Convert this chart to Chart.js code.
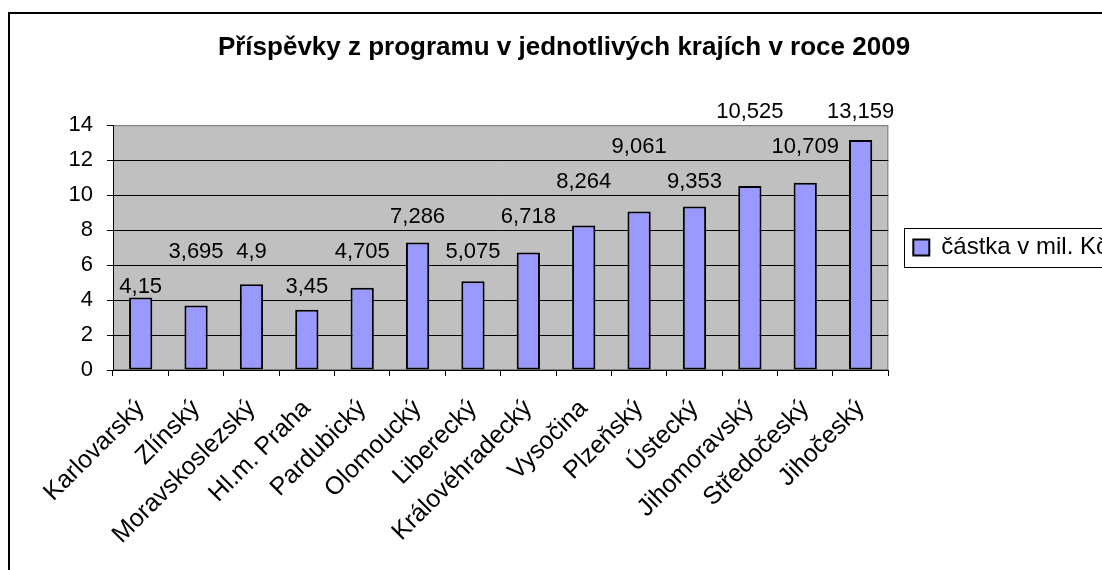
<!DOCTYPE html>
<html>
<head>
<meta charset="utf-8">
<script src="https://cdn.jsdelivr.net/npm/chart.js@4.4.1/dist/chart.umd.min.js"></script>
<style>
  body { margin: 0; overflow: hidden; background: #fff; }
  #frame { position: absolute; left: 8px; top: 12px; border: 2px solid #000; width: 1108px; height: 560px; }
  canvas { display: block; }
</style>
</head>
<body>
<div id="frame">
  <canvas id="chart" width="1108" height="560"></canvas>
</div>
<script>
// data (mil. Kč)
const regions = ["Karlovarský", "Zlínský", "Moravskoslezský", "Hl.m. Praha", "Pardubický", "Olomoucký",
  "Liberecký", "Královéhradecký", "Vysočina", "Plzeňský", "Ústecký", "Jihomoravský", "Středočeský", "Jihočeský"];
const amounts = [4.15, 3.695, 4.9, 3.45, 4.705, 7.286, 5.075, 6.718, 8.264, 9.061, 9.353, 10.525, 10.709, 13.159];
const yTicks = [0, 2, 4, 6, 8, 10, 12, 14];

const fontFamily = '"Liberation Sans", Arial, sans-serif';
Chart.defaults.font.family = fontFamily;
Chart.defaults.font.size = 22;
Chart.defaults.color = "#000";

// grey plot area like the old excel charts
const plotBackground = {
  id: "plotBackground",
  beforeDraw(chart) {
    const { ctx, chartArea: a } = chart;
    ctx.save();
    ctx.fillStyle = "#c0c0c0";
    ctx.fillRect(a.left, a.top, a.right - a.left, a.bottom - a.top);
    ctx.strokeStyle = "#808080";
    ctx.lineWidth = 1;
    ctx.strokeRect(a.left + 0.5, a.top + 0.5, a.right - a.left - 1, a.bottom - a.top - 1);
    ctx.restore();
  }
};

// value labels, tallest bars pick first, others go up a row when they'd touch a neighbour
const barLabels = {
  id: "barLabels",
  afterDatasetsDraw(chart) {
    const ctx = chart.ctx;
    const y = chart.scales.y;
    const bars = chart.getDatasetMeta(0).data;
    const vals = chart.data.datasets[0].data;
    ctx.save();
    ctx.font = "22px " + fontFamily;
    ctx.fillStyle = "#000";
    ctx.textAlign = "center";
    ctx.textBaseline = "alphabetic";
    const order = vals.map((v, i) => i).sort((a, b) => vals[b] - vals[a]);
    const placed = [];
    order.forEach(i => {
      const text = String(vals[i]).replace(".", ",");
      const w = ctx.measureText(text).width;
      const x0 = bars[i].x - w / 2, x1 = bars[i].x + w / 2;
      let row = Math.ceil((vals[i] + 0.2 - 0.4) / 2);
      while (placed.some(p => p.row === row && x0 < p.x1 + 7 && x1 > p.x0 - 7)) row++;
      placed.push({ row, x0, x1 });
      ctx.fillText(text, bars[i].x, y.getPixelForValue(row * 2 + 0.4));
    });
    ctx.restore();
  }
};

// box round the legend
const legendFrame = {
  id: "legendFrame",
  afterDraw(chart) {
    const hb = chart.legend.legendHitBoxes[0];
    if (!hb) return;
    const ctx = chart.ctx;
    ctx.save();
    ctx.strokeStyle = "#000";
    ctx.lineWidth = 1;
    ctx.strokeRect(Math.round(hb.left) - 8.5, Math.round(hb.top + hb.height / 2) - 19.5, 400, 39);
    ctx.restore();
  }
};

new Chart(document.getElementById("chart"), {
  type: "bar",
  data: {
    labels: regions,
    datasets: [{
      label: "částka v mil. Kč",
      data: amounts,
      backgroundColor: "#9999ff",
      borderColor: "#000",
      borderWidth: 2,
      borderSkipped: false,
      barPercentage: 0.42,
      categoryPercentage: 1
    }]
  },
  options: {
    responsive: false,
    animation: false,
    devicePixelRatio: 1,
    layout: { padding: 0 },
    plugins: {
      title: {
        display: true,
        text: "Příspěvky z programu v jednotlivých krajích v roce 2009",
        font: { size: 26, weight: "bold" },
        color: "#000",
        padding: { top: 18, bottom: 62 }
      },
      legend: {
        position: "right",
        fullSize: false,
        labels: {
          boxWidth: 16,
          boxHeight: 16,
          padding: 25,
          color: "#000",
          font: { size: 24 }
        }
      },
      tooltip: { enabled: false }
    },
    scales: {
      x: {
        grid: { drawOnChartArea: false, tickLength: 6, color: "#000" },
        border: { color: "#000", width: 1 },
        ticks: { minRotation: 45, maxRotation: 45, autoSkip: false, padding: 18, color: "#000", font: { size: 25 } },
        afterFit: s => { s.height = 204; }
      },
      y: {
        min: 0,
        max: 14,
        afterBuildTicks: s => { s.ticks = yTicks.map(v => ({ value: v })); },
        grid: {
          tickLength: 6,
          color: c => (c.tick && c.tick.value === 14 ? "#808080" : "#000"),
          tickColor: "#000"
        },
        border: { color: "#000", width: 1 },
        ticks: { padding: 14, color: "#000" },
        afterFit: s => { s.width = 103; }
      }
    }
  },
  plugins: [plotBackground, barLabels, legendFrame]
});
</script>
</body>
</html>
